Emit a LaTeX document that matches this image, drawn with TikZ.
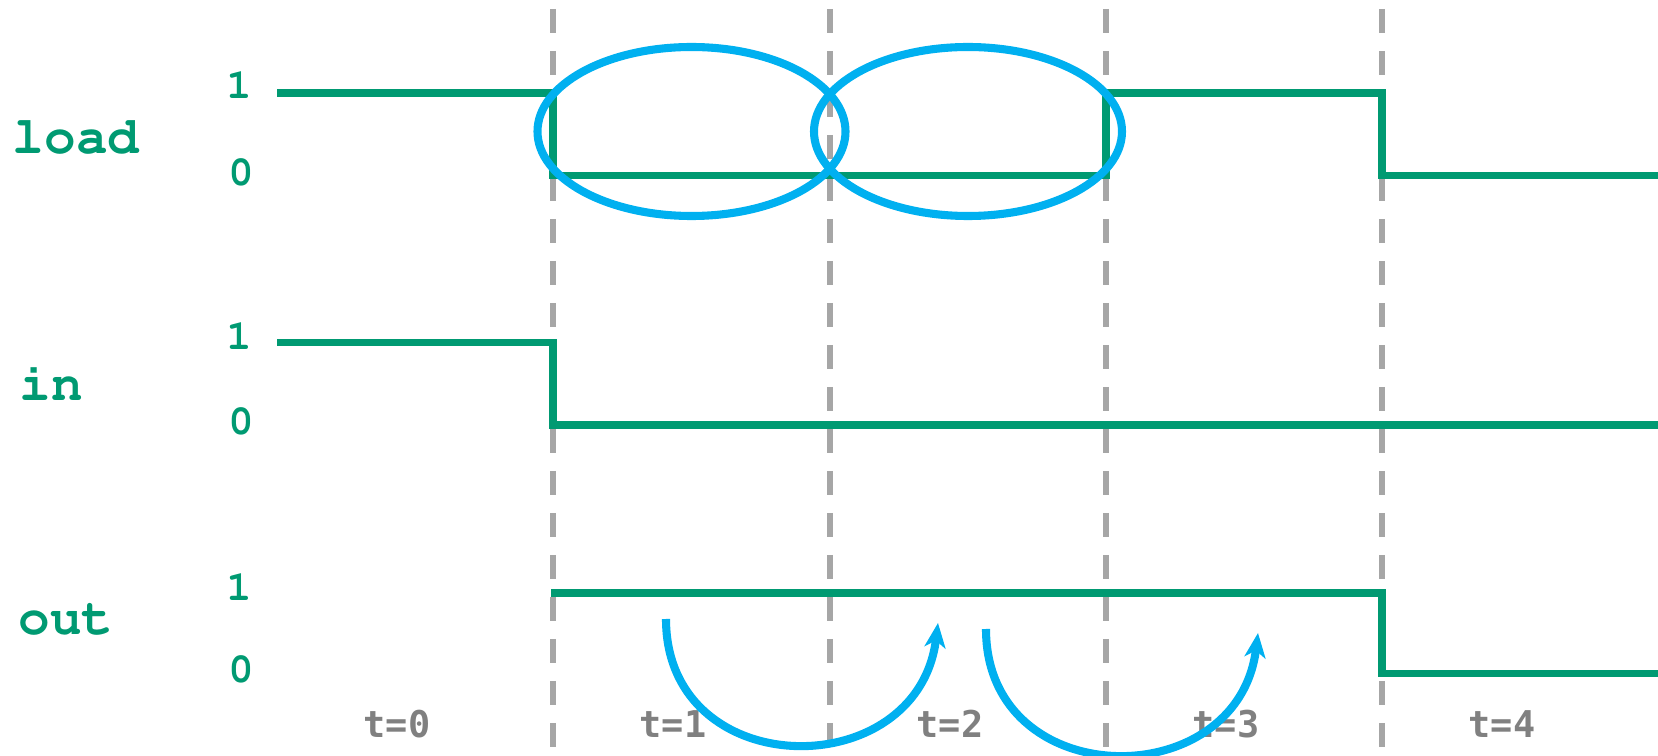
\documentclass[tikz,border=0pt]{standalone}
\usepackage{fontspec}
\newfontfamily\tickfont{DejaVu Sans Mono}
\newcommand\courfont{\fontencoding{T1}\fontfamily{pcr}\fontseries{b}\selectfont}
\usepackage{xcolor}
\usetikzlibrary{arrows.meta}
\definecolor{sig}{RGB}{0,154,114}
\definecolor{mark}{RGB}{0,176,240}
\definecolor{grid}{RGB}{166,166,166}
\definecolor{tick}{RGB}{128,128,128}

\begin{document}
\begin{tikzpicture}[
  x=0.02cm, y=-0.02cm,
  wave/.style={draw=sig, line width=4.2pt},
  guide/.style={draw=grid, line width=3.4pt, dash pattern=on 0.48cm off 0.36cm},
  ring/.style={draw=mark, line width=4.6pt},
  hop/.style={draw=mark, line width=4.6pt, -{Stealth[length=14pt,width=12pt,inset=4pt]}},
  signame/.style={text=sig, font=\fontsize{30}{30}\courfont, inner sep=0pt},
  lvl/.style={text=sig, font=\fontsize{24}{24}\courfont, inner sep=0pt},
  tlab/.style={text=tick, font=\tickfont\bfseries\fontsize{21}{21}\selectfont, inner sep=0pt},
]
\useasboundingbox (0,0) rectangle (1658,756);

% clock edges
\foreach \x in {553,830,1106,1382}{\draw[guide] (\x,9) -- (\x,750);}

% signal names and levels
\node[signame] (load) at (76,137) {load};
\node[lvl] (load1) at (239,85) {1};
\node[lvl] (load0) at (241,173) {0};
\node[signame] (in) at (51,383) {in};
\node[lvl] (in1) at (239,336) {1};
\node[lvl] (in0) at (241,422) {0};
\node[signame] (out) at (66,620) {out};
\node[lvl] (out1) at (239,587) {1};
\node[lvl] (out0) at (241,670) {0};

% waveforms
\draw[wave] (277,93) -- (553,93) -- (553,175.5) -- (1106,175.5) -- (1106,93) -- (1382,93) -- (1382,175.5) -- (1658,175.5);
\draw[wave] (277,342.5) -- (553,342.5) -- (553,425) -- (1658,425);
\draw[wave] (551,593) -- (1382,593) -- (1382,673.5) -- (1658,673.5);

% time steps
\foreach \t/\x in {0/397,1/673,2/950,3/1226,4/1502}{\node[tlab] (t\t) at (\x,724) {t=\t};}

% load samples
\draw[ring] (691.5,131.5) ellipse [x radius=154, y radius=84.5];
\draw[ring] (968,131.5) ellipse [x radius=154, y radius=84.5];

% out carried over
\coordinate (h1s) at (666,619);
\coordinate (h1e) at (938,623);
\coordinate (h2s) at (986,629);
\coordinate (h2e) at (1258,633);
\draw[hop] (h1s) .. controls (666,784) and (918,786) .. (h1e);
\draw[hop] (h2s) .. controls (986,794) and (1238,796) .. (h2e);

\end{tikzpicture}
\end{document}
